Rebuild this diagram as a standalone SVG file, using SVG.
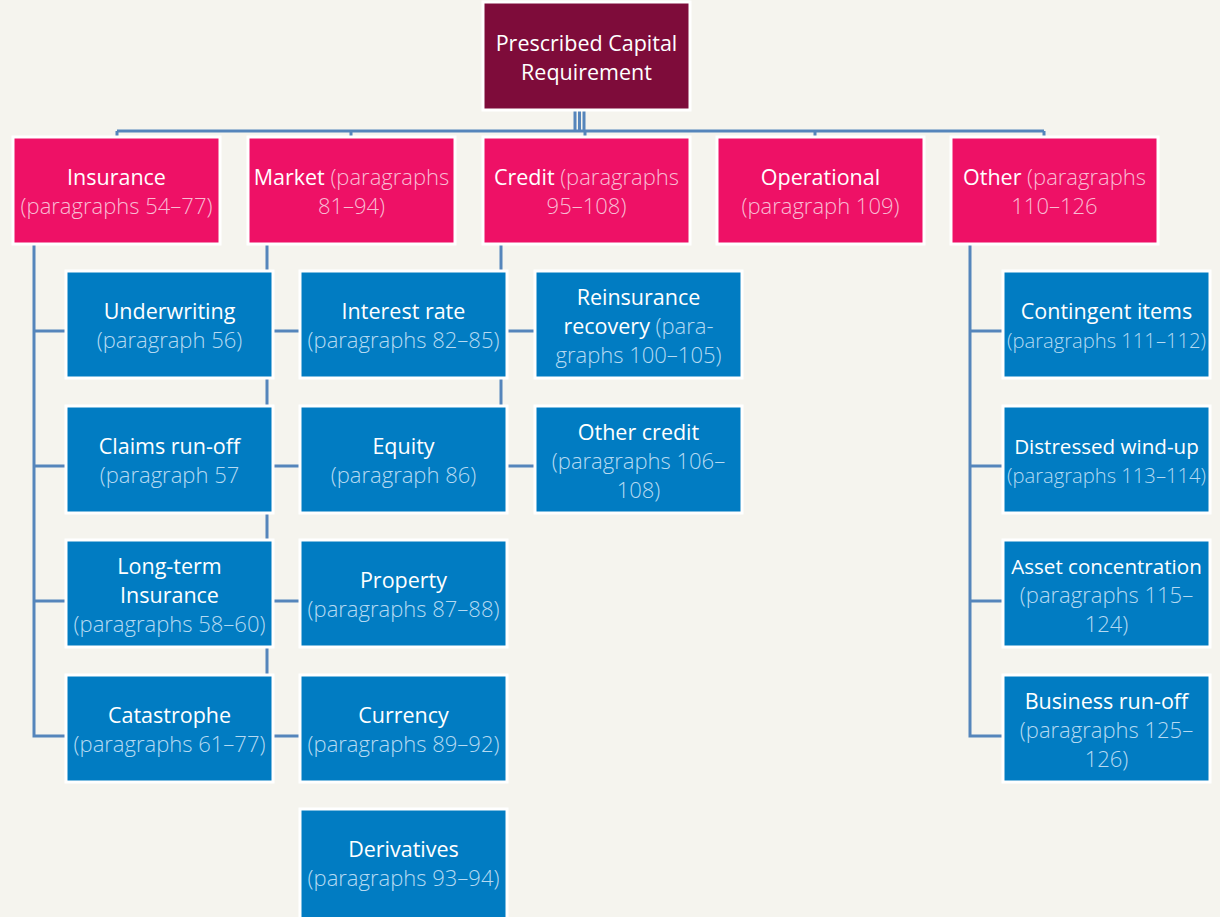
<svg xmlns="http://www.w3.org/2000/svg" width="1220" height="917" viewBox="0 0 1220 917">
<style>
.bg{fill:#f5f4ee}
.root{fill:#7e0c3a;stroke:#fff;stroke-width:3}
.l1{fill:#ee1166;stroke:#fff;stroke-width:3}
.l2{fill:#017cc2;stroke:#fff;stroke-width:3}
.conn{fill:none;stroke:#5585bb;stroke-width:3}
text{font-family:"Open Sans","Noto Sans",sans-serif;font-size:21.5px;text-anchor:middle;fill:#fff}
.pp{font-weight:300;fill:#f9bcd3;font-size:22px}
.pb{font-weight:300;fill:#b5daf2;font-size:22px}
.sm{font-size:20.2px}
.sm2{font-size:20.6px}
</style>
<rect class="bg" x="0" y="0" width="1220" height="917"/>
<g id="connectors">
<path class="conn" d="M575,111V131M579.5,111V131M584,111V131M117,131H1044M117,131V137M351,131V137M585,131V137M815,131V137M1044,131V137"/>
<path class="conn" d="M34,244V736H66M34,331H66M34,466H66M34,601H66"/>
<path class="conn" d="M267,244V736H300M267,331H300M267,466H300M267,601H300"/>
<path class="conn" d="M501,244V466H535M501,331H535"/>
<path class="conn" d="M970,244V736H1003M970,331H1003M970,466H1003M970,601H1003"/>
</g>
<g id="root"><rect class="root" x="483" y="2" width="207" height="108"/>
<text x="586.5" y="51">Prescribed Capital</text><text x="586.5" y="80">Requirement</text></g>
<g id="insurance"><rect class="l1" x="13" y="137" width="207" height="107"/>
<text x="116.5" y="185">Insurance</text><text x="116.5" y="214" class="pp">(paragraphs 54–77)</text></g>
<g id="market"><rect class="l1" x="248" y="137" width="207" height="107"/>
<text x="351.5" y="185">Market <tspan class="pp">(paragraphs</tspan></text><text x="351.5" y="214" class="pp">81–94)</text></g>
<g id="credit"><rect class="l1" x="483" y="137" width="207" height="107"/>
<text x="586.5" y="185">Credit <tspan class="pp">(paragraphs</tspan></text><text x="586.5" y="214" class="pp">95–108)</text></g>
<g id="operational"><rect class="l1" x="717" y="137" width="207" height="107"/>
<text x="820.5" y="185">Operational</text><text x="820.5" y="214" class="pp">(paragraph 109)</text></g>
<g id="other"><rect class="l1" x="951" y="137" width="207" height="107"/>
<text x="1054.5" y="185">Other <tspan class="pp">(paragraphs</tspan></text><text x="1054.5" y="214" class="pp">110–126</text></g>

<g id="underwriting"><rect class="l2" x="66" y="271" width="207" height="107"/>
<text x="169.5" y="319">Underwriting</text><text x="169.5" y="348" class="pb">(paragraph 56)</text></g>
<g id="claims"><rect class="l2" x="66" y="406" width="207" height="107"/>
<text x="169.5" y="454">Claims run-off</text><text x="169.5" y="483" class="pb">(paragraph 57</text></g>
<g id="longterm"><rect class="l2" x="66" y="540" width="207" height="107"/>
<text x="169.5" y="574">Long-term</text><text x="169.5" y="603">Insurance</text><text x="169.5" y="632" class="pb">(paragraphs 58–60)</text></g>
<g id="catastrophe"><rect class="l2" x="66" y="675" width="207" height="107"/>
<text x="169.5" y="723">Catastrophe</text><text x="169.5" y="752" class="pb">(paragraphs 61–77)</text></g>

<g id="interest"><rect class="l2" x="300" y="271" width="207" height="107"/>
<text x="403.5" y="319">Interest rate</text><text x="403.5" y="348" class="pb">(paragraphs 82–85)</text></g>
<g id="equity"><rect class="l2" x="300" y="406" width="207" height="107"/>
<text x="403.5" y="454">Equity</text><text x="403.5" y="483" class="pb">(paragraph 86)</text></g>
<g id="property"><rect class="l2" x="300" y="540" width="207" height="107"/>
<text x="403.5" y="588">Property</text><text x="403.5" y="617" class="pb">(paragraphs 87–88)</text></g>
<g id="currency"><rect class="l2" x="300" y="675" width="207" height="107"/>
<text x="403.5" y="723">Currency</text><text x="403.5" y="752" class="pb">(paragraphs 89–92)</text></g>
<g id="derivatives"><rect class="l2" x="300" y="809" width="207" height="110"/>
<text x="403.5" y="857">Derivatives</text><text x="403.5" y="886" class="pb">(paragraphs 93–94)</text></g>

<g id="reinsurance"><rect class="l2" x="535" y="271" width="207" height="107"/>
<text x="638.5" y="305">Reinsurance</text><text x="638.5" y="334">recovery <tspan class="pb">(para-</tspan></text><text x="638.5" y="363" class="pb">graphs 100–105)</text></g>
<g id="othercredit"><rect class="l2" x="535" y="406" width="207" height="107"/>
<text x="638.5" y="440">Other credit</text><text x="638.5" y="469" class="pb">(paragraphs 106–</text><text x="638.5" y="498" class="pb">108)</text></g>

<g id="contingent"><rect class="l2" x="1003" y="271" width="207" height="107"/>
<text x="1106.5" y="319">Contingent items</text><text x="1106.5" y="348" class="pb sm">(paragraphs 111–112)</text></g>
<g id="distressed"><rect class="l2" x="1003" y="406" width="207" height="107"/>
<text x="1106.5" y="454" class="sm2">Distressed wind-up</text><text x="1106.5" y="483" class="pb sm">(paragraphs 113–114)</text></g>
<g id="asset"><rect class="l2" x="1003" y="540" width="207" height="107"/>
<text x="1106.5" y="574" class="sm2">Asset concentration</text><text x="1106.5" y="603" class="pb">(paragraphs 115–</text><text x="1106.5" y="632" class="pb">124)</text></g>
<g id="business"><rect class="l2" x="1003" y="675" width="207" height="107"/>
<text x="1106.5" y="709">Business run-off</text><text x="1106.5" y="738" class="pb">(paragraphs 125–</text><text x="1106.5" y="767" class="pb">126)</text></g>
</svg>
